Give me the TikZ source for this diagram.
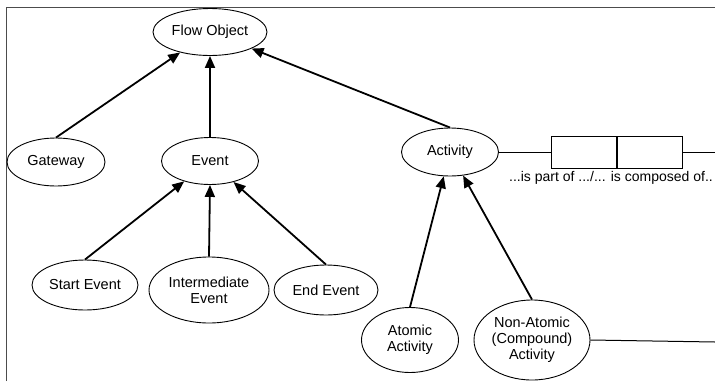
\documentclass[tikz,border=0pt]{standalone}
\usepackage{fontspec}
\setmainfont{Liberation Sans}
\usetikzlibrary{shapes.geometric, arrows.meta}

\tikzset{
    obj/.style={ellipse, draw, line width=0.9pt, inner sep=0pt, align=center, font=\fontsize{14.5}{16}\selectfont},
    isa/.style={line width=1.8pt, -{Triangle[length=12pt, width=10pt]}},
    part/.style={rectangle, draw, line width=0.9pt, minimum width=65pt, minimum height=32pt, inner sep=0pt},
}

\begin{document}
\begin{tikzpicture}[x=1pt, y=-1pt]
    \useasboundingbox (0,0) rectangle (715,381);

    % Frame
    \draw[line width=1pt, black!70] (6,381) -- (6,7) -- (715,7);

    % Main objects (ellipses)
    \node[obj, minimum width=114pt, minimum height=47pt] (fo) at (210,32) {Flow Object};
    \node[obj, minimum width=98pt, minimum height=48pt] (gw) at (56,162) {Gateway};
    \node[obj, minimum width=97pt, minimum height=47pt] (ev) at (210,161) {Event};
    \node[obj, minimum width=97pt, minimum height=48pt] (act) at (450,152) {Activity};
    \node[obj, minimum width=106pt, minimum height=50pt] (se) at (85,285) {Start Event};
    \node[obj, minimum width=120pt, minimum height=66pt] (ie) at (209,290) {Intermediate\\Event};
    \node[obj, minimum width=104pt, minimum height=50pt] (ee) at (326,290) {End Event};
    \node[obj, minimum width=97pt, minimum height=65pt] (aa) at (410,340) {Atomic\\Activity};
    \node[obj, minimum width=116pt, minimum height=80pt] (na) at (532,340) {Non-Atomic\\(Compound)\\Activity};

    % Part-of boxes
    \node[part, anchor=west] (pl) at (551,152) {};
    \node[part, anchor=west] (pr) at (pl.east) {};
    \node[anchor=north west, inner sep=0pt, font=\fontsize{14}{16}\selectfont] (lbl) at (509,171) {...is part of .../... is composed of..};
    \coordinate (actend) at (715,152);
    \coordinate (naend) at (715,342);

    % Generalisation arrows
    \draw[isa] (gw.north) -- (fo);
    \draw[isa] (ev.north) -- (fo.south);
    \draw[isa] (act.north) -- (fo);
    \draw[isa] (se.north) -- (ev);
    \draw[isa] (ie.north) -- (ev.south);
    \draw[isa] (ee.north) -- (ev);
    \draw[isa] (aa.north) -- (act);
    \draw[isa] (na.north) -- (act);

    % Plain lines
    \draw[line width=1pt] (act.east) -- (pl.west);
    \draw[line width=1pt] (pr.east) -- (actend);
    \draw[line width=1pt] (na.east) -- (naend);
\end{tikzpicture}
\end{document}
